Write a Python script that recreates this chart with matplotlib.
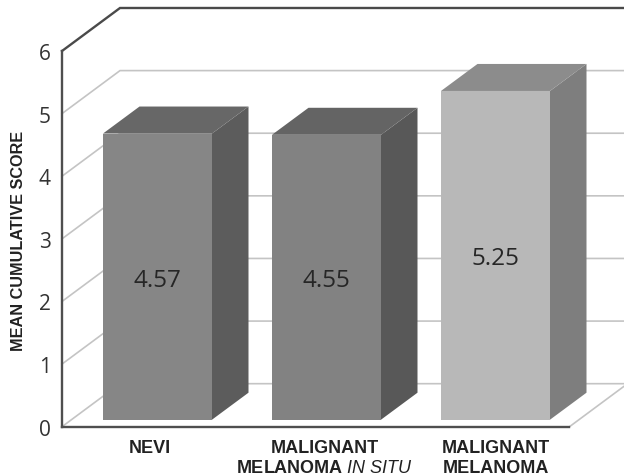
import matplotlib
matplotlib.use("Agg")
import matplotlib.pyplot as plt
from matplotlib.transforms import ScaledTranslation

categories = ["NEVI", "MALIGNANT\nMELANOMA $\\mathit{IN\\ SITU}$", "MALIGNANT\nMELANOMA"]
values = [4.57, 4.55, 5.25]
y_ticks = [0, 1, 2, 3, 4, 5, 6]
label_shift_px = [-7.5, -2, 0]

front_colors = ["#868686", "#828282", "#b8b8b8"]
side_colors = ["#5c5c5c", "#585858", "#7e7e7e"]
top_colors = ["#676767", "#646464", "#8c8c8c"]

W, H = 624, 477
PX_X = 169.0   # pixels per category
PX_Y = 62.6    # pixels per score unit
AX_L, AX_R, AX_B, AX_T = 62.0, 569.5, 427.7, 52.0

plt.rcParams["mathtext.fontset"] = "custom"
plt.rcParams["mathtext.it"] = "Liberation Sans:italic"
plt.rcParams["mathtext.rm"] = "Liberation Sans"
plt.rcParams["mathtext.bf"] = "Liberation Sans:bold"

fig = plt.figure(figsize=(W / 100, H / 100), dpi=100, facecolor="white")
ax = fig.add_axes([AX_L / W, 1 - AX_B / H, (AX_R - AX_L) / W, (AX_B - AX_T) / H])
ax.patch.set_visible(False)
ax.set_ylim(0, 6)
x0 = (AX_L - 157.5) / PX_X
ax.set_xlim(x0, x0 + (AX_R - AX_L) / PX_X)

# depth of the room and of the bars, in data units
room_dx, room_dy = 58 / PX_X, 43 / PX_Y
bar_dx, bar_dy = 36.5 / PX_X, 27 / PX_Y
base = 7.0 / PX_Y
bar_w = 109 / PX_X

grid_c = "#c4c4c4"
x_end = x0 + (W + 6 - AX_L) / PX_X
for t in y_ticks:
    dark = t == 6
    col = "#4a4a4a" if dark else grid_c
    lw = 1.7 if dark else 1.2
    ax.plot([x0, x0 + room_dx, x_end], [t, t + room_dy, t + room_dy],
            color=col, lw=lw, clip_on=False, zorder=1, solid_joinstyle="miter")
# floor right edge
xr = x0 + (AX_R - AX_L) / PX_X
ax.plot([xr, xr + room_dx], [0, room_dy], color=grid_c, lw=1.2, clip_on=False, zorder=1)

xs = list(range(len(categories)))
ax.bar(xs, values, width=bar_w, bottom=base, color=front_colors, zorder=3, linewidth=0)
for x, v, fc, sc, tc in zip(xs, values, front_colors, side_colors, top_colors):
    l, r = x - bar_w / 2, x + bar_w / 2
    top = base + v
    ax.fill([r, r + bar_dx, r + bar_dx, r], [base, base + bar_dy, top + bar_dy, top],
            color=sc, lw=0, zorder=2, clip_on=False)
    ax.fill([l, r, r + bar_dx, l + bar_dx], [top, top, top + bar_dy, top + bar_dy],
            color=tc, lw=0, zorder=2, clip_on=False)
    ax.annotate(f"{v:.2f}", (x, base + v / 2), xytext=(0, -3 * 0.72), textcoords="offset points",
                ha="center", va="center", zorder=4,
                fontsize=17.5, family="Open Sans", color="#262626")

for s in ["top", "right"]:
    ax.spines[s].set_visible(False)
for s in ["left", "bottom"]:
    ax.spines[s].set_color("#4f4f4f")
    ax.spines[s].set_linewidth(1.7)
    ax.spines[s].set_zorder(5)

ax.set_yticks(y_ticks)
ax.set_yticklabels([str(t) for t in y_ticks], family="Open Sans", fontsize=15, color="#333333")
ax.tick_params(axis="y", length=0, pad=8)
ax.set_xticks(xs)
ax.set_xticklabels(categories, family="Liberation Sans", fontweight="bold", fontsize=13,
                   color="#222222", linespacing=1.22)
ax.tick_params(axis="x", length=0, pad=9)
for lbl, dx in zip(ax.get_xticklabels(), label_shift_px):
    lbl.set_transform(lbl.get_transform() + ScaledTranslation(dx / 100, 0, fig.dpi_scale_trans))

ax.set_ylabel("MEAN CUMULATIVE SCORE", family="Liberation Sans", fontweight="bold",
              fontsize=11.7, color="#222222")
ax.yaxis.set_label_coords((26.5 - AX_L) / (AX_R - AX_L), (AX_B - 241) / (AX_B - AX_T))

fig.savefig("out.png", dpi=100)
